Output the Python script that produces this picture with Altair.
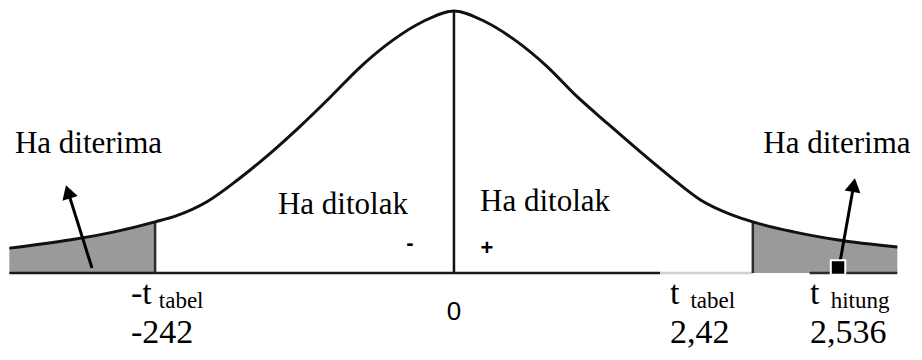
import altair as alt
import pandas as pd

# ---- data (x in t-units, h = curve height relative to the peak)
curve_x = [-3.60, -3.10, -2.75, -2.42, -2.25, -2.00, -1.75, -1.50, -1.25, -1.00, -0.75, -0.50, -0.25, 0.00,
           0.25, 0.50, 0.75, 1.00, 1.25, 1.50, 1.75, 2.00, 2.25, 2.42, 2.75, 3.10, 3.59]
curve_h = [0.095, 0.127, 0.157, 0.195, 0.218, 0.272, 0.356, 0.452, 0.558, 0.672, 0.790, 0.887, 0.960, 1.000,
           0.960, 0.887, 0.790, 0.672, 0.568, 0.466, 0.368, 0.278, 0.222, 0.195, 0.157, 0.127, 0.099]

t_tabel = 2.42
t_hitung_pos = 3.11        # where the t hitung marker sits in the diagram

region_labels = ["Ha diterima", "Ha ditolak", "Ha ditolak", "Ha diterima"]
region_x = [-3.555, -1.425, 0.211, 2.505]
region_y = [0.458, 0.225, 0.237, 0.458]

sign_labels = ["-", "+"]
sign_x = [-0.356, 0.267]
sign_y = [0.086, 0.069]

main_labels = ["-t", "t", "t", "-242", "2,42", "2,536"]
main_x = [-2.615, 1.749, 2.883, -2.615, 1.749, 2.883]
main_y = [-0.120, -0.120, -0.120, -0.267, -0.267, -0.267]

sub_labels = ["tabel", "tabel", "hitung"]
sub_x = [-2.39, 1.915, 3.05]
sub_y = [-0.133, -0.133, -0.133]

zero_label = ["0"]
zero_x = [0.0]
zero_y = [-0.178]

# arrows: shaft start -> head centre, head angle
arrow_x = [-2.931, 3.126]
arrow_y = [0.019, 0.042]
arrow_x2 = [-3.125, 3.237]
arrow_y2 = [0.310, 0.336]
arrow_angle = [342.6, 10.0]

# ---- scales
XS = alt.Scale(domain=[-3.611, 3.725], nice=False, zero=False)
YS = alt.Scale(domain=[-0.3015, 1.0115], nice=False, zero=False)

curve = pd.DataFrame({"x": curve_x, "h": curve_h, "z": [0.0] * len(curve_x)})
h_at = dict(zip(curve_x, curve_h))


def X(f="x"):
    return alt.X(f"{f}:Q", scale=XS, axis=None)


def Y(f="h"):
    return alt.Y(f"{f}:Q", scale=YS, axis=None)


base = alt.Chart(curve)

tail_left = base.transform_filter(alt.datum.x <= -t_tabel).mark_area(
    color="#9a9a9a", interpolate="monotone").encode(x=X(), y=Y(), y2="z:Q")
tail_right = base.transform_filter(alt.datum.x >= t_tabel).mark_area(
    color="#9a9a9a", interpolate="monotone").encode(x=X(), y=Y(), y2="z:Q")

base_df = pd.DataFrame({"x": [curve_x[0], 1.67, 2.88], "x2": [1.67, t_tabel, curve_x[-1]],
                        "h": [0.0, 0.0, 0.0],
                        "c": ["#1a1a1a", "#d0d0d0", "#2a2a2a"]})
baseline = alt.Chart(base_df).mark_rule(strokeWidth=2.5).encode(
    x=X(), x2="x2:Q", y=Y(), color=alt.Color("c:N", scale=None))

vert_df = pd.DataFrame({"x": [-t_tabel, 0.0, t_tabel],
                        "h": [h_at[-t_tabel], 1.0, h_at[t_tabel]],
                        "z": [0.0, 0.0, 0.0],
                        "c": ["#2b2b2b", "#111111", "#2b2b2b"]})
verts = alt.Chart(vert_df).mark_rule(strokeWidth=2.5).encode(
    x=X(), y=Y(), y2="z:Q", color=alt.Color("c:N", scale=None))

line = base.mark_line(color="#111111", strokeWidth=3, interpolate="monotone").encode(x=X(), y=Y())

arr_df = pd.DataFrame({"x": arrow_x, "h": arrow_y, "x2": arrow_x2, "h2": arrow_y2, "a": arrow_angle})
shafts = alt.Chart(arr_df).mark_rule(color="black", strokeWidth=3).encode(
    x=X(), y=Y(), x2="x2:Q", y2="h2:Q")
heads = alt.Chart(arr_df).mark_point(shape="triangle-up", filled=True, size=256, color="black",
                                     opacity=1).encode(
    x=X("x2"), y=Y("h2"), angle=alt.Angle("a:Q", scale=None))

sq_df = pd.DataFrame({"x": [t_hitung_pos], "h": [0.021]})
square = alt.Chart(sq_df).mark_point(shape="square", filled=True, fill="black", stroke="white",
                                     strokeWidth=2, size=210, opacity=1).encode(x=X(), y=Y())


def text_layer(labels, xs, ys, **kw):
    df = pd.DataFrame({"t": labels, "x": xs, "h": ys})
    return alt.Chart(df).mark_text(baseline="alphabetic", color="black", **kw).encode(
        x=X(), y=Y(), text="t:N")


t_region = text_layer(region_labels, region_x, region_y, font="Liberation Serif", fontSize=31, align="left")
t_sign = text_layer(sign_labels, sign_x, sign_y, font="Liberation Sans", fontSize=22, fontWeight="bold",
                    align="center")
t_main = text_layer(main_labels, main_x, main_y, font="Liberation Serif", fontSize=34, align="left")
t_sub = text_layer(sub_labels, sub_x, sub_y, font="Liberation Serif", fontSize=23, align="left")
t_zero = text_layer(zero_label, zero_x, zero_y, font="Liberation Sans", fontSize=26, align="center")

chart = alt.layer(
    tail_left, tail_right, baseline, verts, line, shafts, heads, square,
    t_region, t_sign, t_main, t_sub, t_zero
).properties(
    width=906, height=344, padding=0, autosize=alt.AutoSizeParams(type="none"),
    background="white"
).configure_view(stroke=None)

chart.save("out.html", embed_options={"renderer": "svg", "actions": False})
